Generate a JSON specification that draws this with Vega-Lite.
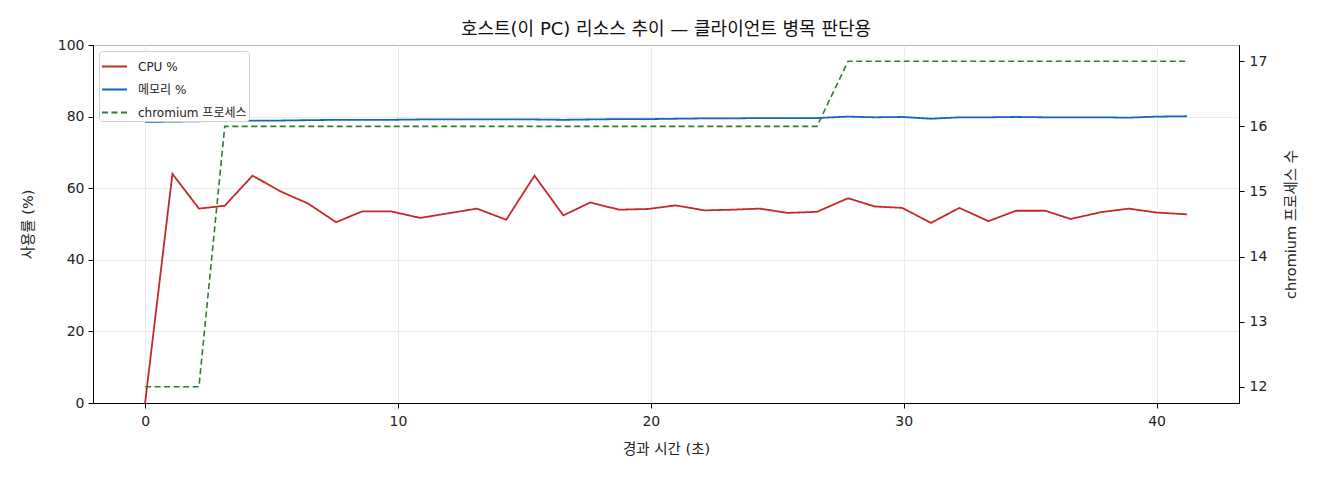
{
  "$schema": "https://vega.github.io/schema/vega-lite/v6.json",
  "autosize": "none",
  "width": 1146,
  "height": 358,
  "padding": {"left": 93, "top": 45, "right": 81, "bottom": 77},
  "background": "white",
  "config": {
    "font": "DejaVu Sans, Noto Sans CJK KR",
    "view": {"stroke": "black", "strokeWidth": 1},
    "axis": {
      "labelFont": "DejaVu Sans, Noto Sans CJK KR",
      "titleFont": "DejaVu Sans, Noto Sans CJK KR",
      "labelFontSize": 14,
      "titleFontSize": 14.5,
      "titleFontWeight": "normal",
      "labelColor": "#222",
      "titleColor": "#222",
      "domainColor": "black",
      "tickColor": "black",
      "tickSize": 5,
      "gridColor": "#e6e6e6",
      "gridWidth": 0.8
    }
  },
  "title": {"text": "호스트(이 PC) 리소스 추이 — 클라이언트 병목 판단용", "fontSize": 18, "fontWeight": "normal", "font": "DejaVu Sans, Noto Sans CJK KR", "color": "#111", "offset": -1, "anchor": "middle"},
  "data": {
    "values": [
      {"t": 0, "cpu": 0, "mem": 78.5, "proc": 12},
      {"t": 1.08, "cpu": 64.0, "mem": 78.6, "proc": 12},
      {"t": 2.13, "cpu": 54.3, "mem": 78.7, "proc": 12},
      {"t": 3.15, "cpu": 55.1, "mem": 78.8, "proc": 16},
      {"t": 4.25, "cpu": 63.5, "mem": 78.9, "proc": 16},
      {"t": 5.36, "cpu": 59.1, "mem": 78.9, "proc": 16},
      {"t": 6.45, "cpu": 55.7, "mem": 79.0, "proc": 16},
      {"t": 7.55, "cpu": 50.5, "mem": 79.1, "proc": 16},
      {"t": 8.58, "cpu": 53.5, "mem": 79.1, "proc": 16},
      {"t": 9.74, "cpu": 53.5, "mem": 79.1, "proc": 16},
      {"t": 10.88, "cpu": 51.7, "mem": 79.2, "proc": 16},
      {"t": 12.0, "cpu": 53.0, "mem": 79.2, "proc": 16},
      {"t": 13.12, "cpu": 54.3, "mem": 79.2, "proc": 16},
      {"t": 14.28, "cpu": 51.2, "mem": 79.2, "proc": 16},
      {"t": 15.4, "cpu": 63.5, "mem": 79.2, "proc": 16},
      {"t": 16.54, "cpu": 52.4, "mem": 79.1, "proc": 16},
      {"t": 17.6, "cpu": 56.0, "mem": 79.2, "proc": 16},
      {"t": 18.75, "cpu": 54.0, "mem": 79.3, "proc": 16},
      {"t": 19.9, "cpu": 54.2, "mem": 79.3, "proc": 16},
      {"t": 20.98, "cpu": 55.2, "mem": 79.4, "proc": 16},
      {"t": 22.13, "cpu": 53.8, "mem": 79.5, "proc": 16},
      {"t": 23.25, "cpu": 54.0, "mem": 79.5, "proc": 16},
      {"t": 24.3, "cpu": 54.3, "mem": 79.6, "proc": 16},
      {"t": 25.4, "cpu": 53.1, "mem": 79.6, "proc": 16},
      {"t": 26.57, "cpu": 53.4, "mem": 79.6, "proc": 16},
      {"t": 27.8, "cpu": 57.2, "mem": 80.0, "proc": 17},
      {"t": 28.85, "cpu": 54.9, "mem": 79.8, "proc": 17},
      {"t": 29.94, "cpu": 54.5, "mem": 79.9, "proc": 17},
      {"t": 31.08, "cpu": 50.3, "mem": 79.4, "proc": 17},
      {"t": 32.2, "cpu": 54.5, "mem": 79.8, "proc": 17},
      {"t": 33.35, "cpu": 50.8, "mem": 79.8, "proc": 17},
      {"t": 34.44, "cpu": 53.7, "mem": 79.9, "proc": 17},
      {"t": 35.6, "cpu": 53.7, "mem": 79.8, "proc": 17},
      {"t": 36.6, "cpu": 51.4, "mem": 79.8, "proc": 17},
      {"t": 37.8, "cpu": 53.3, "mem": 79.8, "proc": 17},
      {"t": 38.9, "cpu": 54.3, "mem": 79.7, "proc": 17},
      {"t": 40.0, "cpu": 53.2, "mem": 80.0, "proc": 17},
      {"t": 41.2, "cpu": 52.7, "mem": 80.1, "proc": 17}
    ]
  },
  "transform": [
    {"fold": ["cpu", "mem", "proc"], "as": ["key", "value"]},
    {"calculate": "datum.key === 'cpu' ? 'CPU %' : (datum.key === 'mem' ? '메모리 %' : 'chromium 프로세스')", "as": "series"}
  ],
  "encoding": {
    "x": {
      "field": "t", "type": "quantitative",
      "scale": {"domain": [-2.06, 43.26], "nice": false, "zero": false},
      "axis": {"title": "경과 시간 (초)", "values": [0, 10, 20, 30, 40], "grid": true, "titlePadding": 14, "labelPadding": 6}
    },
    "color": {
      "field": "series", "type": "nominal",
      "scale": {"domain": ["CPU %", "메모리 %", "chromium 프로세스"], "range": ["#c62828", "#1565c0", "#2e7d32"]},
      "legend": {
        "title": null, "orient": "top-left", "offset": 6,
        "labelFont": "DejaVu Sans, Noto Sans CJK KR", "labelFontSize": 12, "labelColor": "#222",
        "symbolType": "stroke", "symbolSize": 625, "symbolStrokeWidth": 2,
        "rowPadding": 3, "padding": 2,
        "fillColor": "white", "strokeColor": "#d0d0d0", "cornerRadius": 3,
        "labelOffset": 10
      }
    },
    "strokeDash": {
      "field": "series", "type": "nominal",
      "scale": {"domain": ["CPU %", "메모리 %", "chromium 프로세스"], "range": [[1, 0], [1, 0], [6, 3.5]]},
      "legend": {
        "title": null, "orient": "top-left", "offset": 6,
        "labelFont": "DejaVu Sans, Noto Sans CJK KR", "labelFontSize": 12, "labelColor": "#222",
        "symbolType": "stroke", "symbolSize": 625, "symbolStrokeWidth": 2,
        "rowPadding": 3, "padding": 2,
        "fillColor": "white", "strokeColor": "#d0d0d0", "cornerRadius": 3,
        "labelOffset": 10
      }
    }
  },
  "layer": [
    {
      "transform": [{"filter": "datum.key !== 'proc'"}],
      "mark": {"type": "line", "strokeWidth": 1.8},
      "encoding": {
        "y": {
          "field": "value", "type": "quantitative",
          "scale": {"domain": [0, 100], "nice": false},
          "axis": {"title": "사용률 (%)", "values": [0, 20, 40, 60, 80, 100], "grid": true, "orient": "left", "titlePadding": 22, "labelPadding": 4}
        }
      }
    },
    {
      "transform": [{"filter": "datum.key === 'proc'"}],
      "mark": {"type": "line", "strokeWidth": 1.6},
      "encoding": {
        "y": {
          "field": "value", "type": "quantitative",
          "scale": {"domain": [11.75, 17.25], "nice": false, "zero": false},
          "axis": {"title": "chromium 프로세스 수", "values": [12, 13, 14, 15, 16, 17], "grid": false, "orient": "right", "titleAngle": 270, "titleBaseline": "top", "titlePadding": 18, "labelPadding": 5}
        }
      }
    }
  ],
  "resolve": {"scale": {"y": "independent"}}
}
